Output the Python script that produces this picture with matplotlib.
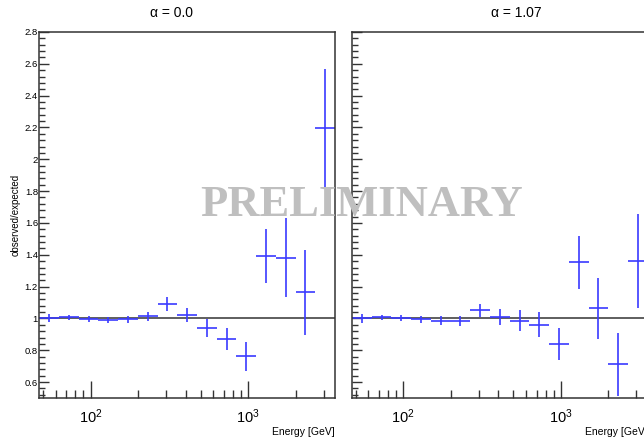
import matplotlib.pyplot as plt
import numpy as np
from matplotlib.ticker import FixedLocator, MultipleLocator, NullFormatter

# energy bin edges [GeV]
e_edges = np.array([47.3, 63.1, 84.1, 112.2, 149.6, 199.5, 266.1, 354.8,
                    473.2, 631.0, 841.4, 1122, 1496, 1995, 2661, 3548])

# alpha = 0.0
ratio_a0 = [1.003, 1.007, 0.996, 0.990, 0.995, 1.013, 1.092, 1.023,
            0.939, 0.870, 0.761, 1.390, 1.382, 1.165, 2.195]
err_a0 = [0.028, 0.015, 0.018, 0.020, 0.022, 0.026, 0.044, 0.045,
          0.058, 0.070, 0.091, 0.170, 0.250, 0.268, 0.372]

# alpha = 1.07
ratio_a1 = [1.002, 1.007, 1.000, 0.994, 0.987, 0.983, 1.050, 1.008,
            0.987, 0.960, 0.839, 1.354, 1.063, 0.711, 1.363]
err_a1 = [0.028, 0.017, 0.019, 0.020, 0.028, 0.030, 0.042, 0.050,
          0.063, 0.079, 0.103, 0.166, 0.193, 0.200, 0.295]

titles = ['α = 0.0', 'α = 1.07']
title_x = [172, 516]

plt.rcParams['font.family'] = ['Liberation Sans', 'DejaVu Sans']
plt.rcParams['mathtext.fontset'] = 'custom'
plt.rcParams['mathtext.rm'] = 'Liberation Sans'
plt.rcParams['mathtext.it'] = 'Liberation Sans:italic'

W, H = 644, 445
fig = plt.figure(figsize=(W / 100, H / 100), dpi=100)

centers = np.sqrt(e_edges[:-1] * e_edges[1:])
xlo = centers - e_edges[:-1]
xhi = e_edges[1:] - centers

panels = [(39.3, ratio_a0, err_a0), (352, ratio_a1, err_a1)]
axw = 295.7
for i, (left, r, e) in enumerate(panels):
    ax = fig.add_axes([left / W, 1 - 398 / H, axw / W, 366 / H])
    ax.set_xscale('log')
    ax.set_xlim(e_edges[0], e_edges[-1])
    ax.set_ylim(0.5, 2.8)
    ax.axhline(1.0, color='#333333', lw=1.1, zorder=1)
    ax.errorbar(centers, r, yerr=e, xerr=[xlo, xhi], fmt='none',
                ecolor='#3a3aff', elinewidth=1.2, capsize=0, zorder=2)

    for s in ax.spines.values():
        s.set_color('#333333')
        s.set_linewidth(1.1)

    ax.yaxis.set_major_locator(MultipleLocator(0.2))
    ax.yaxis.set_minor_locator(MultipleLocator(0.04))
    ax.xaxis.set_major_locator(FixedLocator([100, 1000]))
    ax.xaxis.set_minor_locator(FixedLocator(
        [m * 10 ** d for d in (1, 2, 3) for m in range(2, 10)]))
    ax.xaxis.set_minor_formatter(NullFormatter())
    ax.set_xticklabels([r'$10^2$', r'$10^3$'])
    ax.tick_params(axis='both', which='both', direction='in', color='#333333',
                   top=False, right=False)
    ax.tick_params(axis='y', which='major', length=7, width=1, labelsize=6.8, pad=1)
    ax.tick_params(axis='y', which='minor', length=4, width=1)
    ax.tick_params(axis='x', which='major', length=12, width=1, labelsize=10.5, pad=7)
    ax.tick_params(axis='x', which='minor', length=6, width=1)
    if i == 1:
        ax.set_yticklabels([])
    else:
        ax.set_yticklabels(['%g' % v for v in ax.get_yticks()])
        ax.set_ylim(0.5, 2.8)

    fig.text((left + axw) / W, 1 - 432 / H, 'Energy [GeV]',
             ha='right', va='center', fontsize=7.5)
    fig.text(title_x[i] / W, 1 - 13 / H, titles[i], ha='center', va='center',
             fontsize=10)

fig.text(16 / W, 1 - 215 / H, 'observed/expected', rotation=90,
         ha='center', va='center', fontsize=7)

fig.text(362 / W, 1 - 205 / H, 'PRELIMINARY', ha='center', va='center',
         fontsize=32, family='Liberation Serif', weight='bold',
         color='#bfbfbf', zorder=10)

fig.savefig('out.png', dpi=100)
